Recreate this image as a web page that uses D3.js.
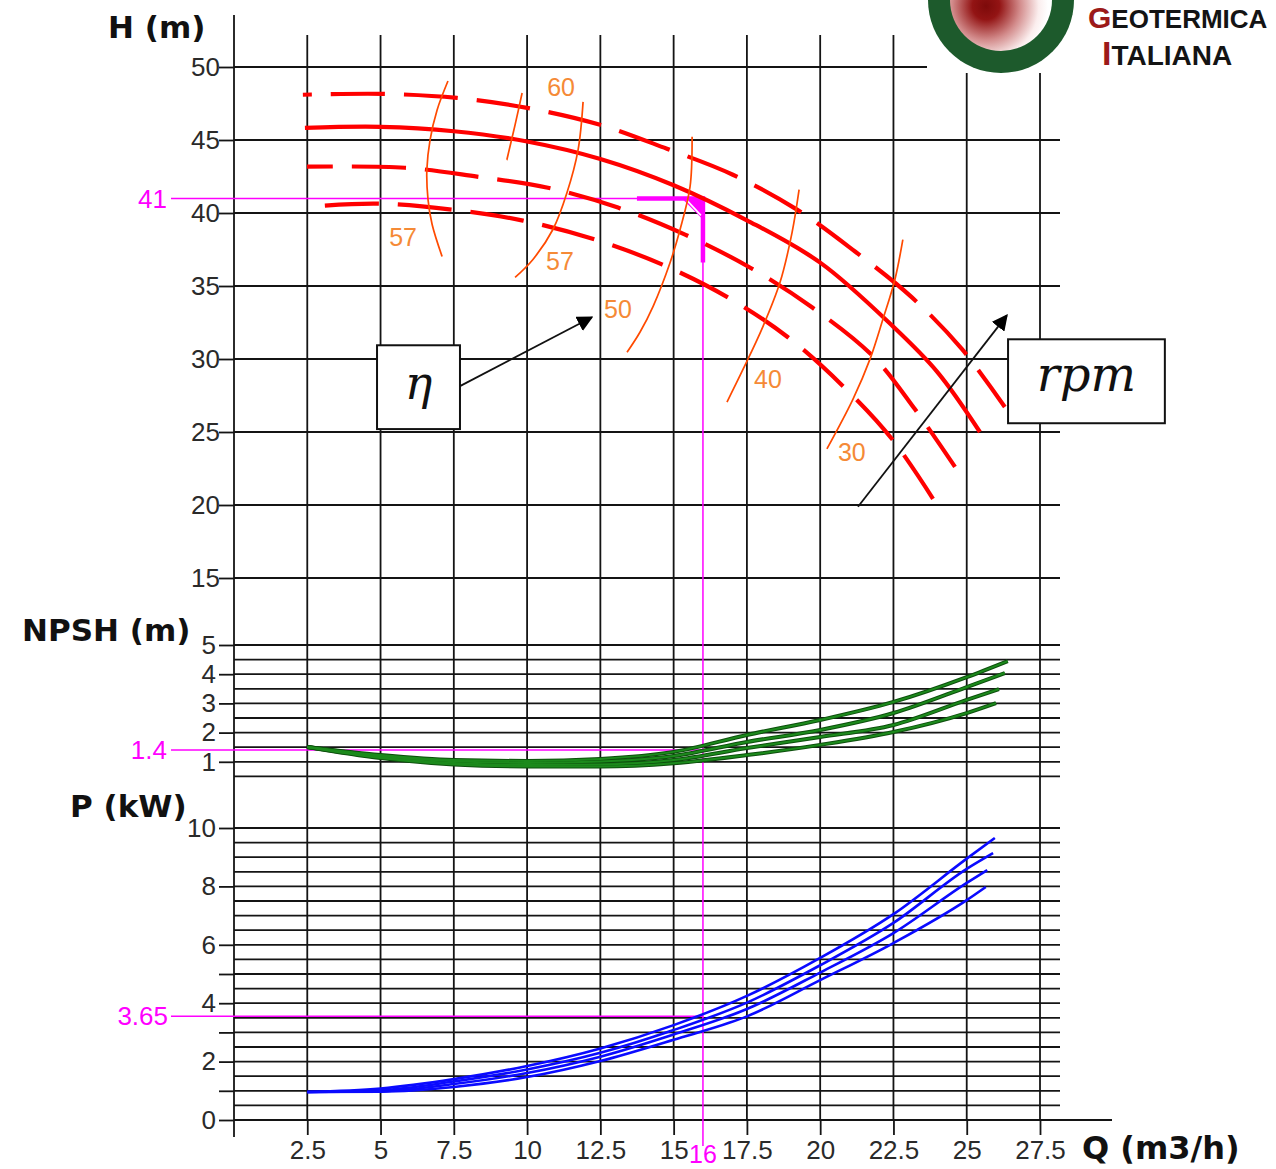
<!DOCTYPE html>
<html><head><meta charset="utf-8">
<script src="https://cdn.jsdelivr.net/npm/d3@7"></script>
<style>body{margin:0;background:#fff}svg{display:block}</style>
</head><body>
<svg id="c" width="1276" height="1169"></svg>
<script>
// ---------- DATA ----------
const qTicks = [2.5,5,7.5,10,12.5,15,17.5,20,22.5,25,27.5];
const hTicks = [15,20,25,30,35,40,45,50];
const npshTicks = [1,2,3,4,5];
const pTickMarks = [0,1,2,3,4,5,6,8,10];
const pTickLabels = [0,2,4,6,8,10];

// H-Q curves (Q m3/h, H m) for four speeds
const hCurveA = [[2.35,48.1],[5.08,48.16],[7.61,47.88],[10.0,47.2],[12.49,46.04],[14.77,44.4],[17.02,42.62],[19.21,40.23],[21.19,37.36],[23.13,34.22],[24.84,30.67],[26.3,26.71]];
const hCurveB = [[2.42,45.83],[5,45.9],[7.5,45.6],[10,44.9],[12.5,43.7],[15,41.9],[17.5,39.5],[20,36.6],[22.5,32.2],[24,29.1],[25.45,25.0]];
const hCurveC = [[2.49,43.17],[5.83,43.1],[8.29,42.49],[10.71,41.73],[13.1,40.37],[15.39,38.52],[17.6,36.27],[19.72,33.54],[21.8,30.19],[23.23,26.57],[24.6,22.61]];
const hCurveD = [[3.1,40.51],[4.98,40.64],[7.44,40.23],[9.86,39.48],[12.32,38.18],[14.6,36.48],[16.85,34.22],[18.9,31.49],[20.78,28.14],[22.45,24.52],[23.85,20.42]];

// iso-efficiency curves (%)
const eff57a = [[7.30,49.04],[6.93,47.06],[6.69,45.01],[6.58,42.96],[6.62,40.92],[6.76,39.21],[7.1,37.02]];
const eff60  = [[9.83,48.22],[9.59,46.04],[9.31,43.65]];
const eff57b = [[11.91,47.61],[11.74,44.33],[11.36,41.39],[10.88,38.87],[10.2,36.82],[9.59,35.59]];
const eff50  = [[15.63,45.22],[15.56,41.8],[15.22,38.87],[14.88,36.61],[14.3,33.61],[13.85,31.83],[13.41,30.46]];
const eff40  = [[19.28,41.6],[19.04,38.66],[18.63,35.25],[18.05,32.24],[17.37,29.3],[16.82,27.05]];
const eff30  = [[22.82,38.18],[22.55,35.45],[22.14,32.72],[21.7,29.99],[21.12,27.25],[20.23,23.84]];
const effLabels = [["60",11.16,48.63],["57",5.77,38.32],["57",11.12,36.68],["50",13.1,33.4],["40",18.22,28.62],["30",21.08,23.63]];

// NPSH curves
const npsh1 = [[2.5,1.51],[5,1.23],[7.5,1.06],[10,1.03],[12.5,1.10],[15,1.34],[17.5,1.92],[20,2.43],[22.5,3.05],[25,3.90],[26.4,4.45]];
const npsh2 = [[2.5,1.51],[5,1.20],[7.5,1.02],[10,0.96],[12.5,1.01],[15,1.20],[17.5,1.68],[20,2.09],[22.5,2.67],[25,3.56],[26.3,4.04]];
const npsh3 = [[2.5,1.51],[5,1.16],[7.5,0.96],[10,0.89],[12.5,0.91],[15,1.06],[17.5,1.47],[20,1.85],[22.5,2.26],[25,3.12],[26.1,3.49]];
const npsh4 = [[2.5,1.51],[5,1.13],[7.5,0.91],[10,0.84],[12.5,0.84],[15,0.95],[17.5,1.23],[20,1.58],[22.5,2.02],[25,2.67],[26.0,3.01]];

// Power curves
const pow1 = [[2.5,0.96],[5,1.08],[7.5,1.40],[10,1.85],[12.5,2.45],[15,3.25],[17.5,4.25],[20,5.55],[22.5,7.05],[25,8.95],[25.96,9.66]];
const pow2 = [[2.5,0.96],[5,1.02],[7.5,1.32],[10,1.73],[12.5,2.30],[15,3.08],[17.5,4.02],[20,5.30],[22.5,6.75],[25,8.60],[25.9,9.14]];
const pow3 = [[2.5,0.96],[5,0.98],[7.5,1.23],[10,1.61],[12.5,2.17],[15,2.93],[17.5,3.80],[20,5.05],[22.5,6.40],[25,8.12],[25.7,8.56]];
const pow4 = [[2.5,0.96],[5,0.97],[7.5,1.13],[10,1.47],[12.5,2.02],[15,2.75],[17.5,3.55],[20,4.79],[22.5,6.06],[25,7.53],[25.65,7.98]];

// duty point read-outs
const dutyQ = 16, dutyH = 41, dutyNPSH = 1.4, dutyPline = 3.55;
const dutyLabels = {q:"16", h:"41", npsh:"1.4", p:"3.65"};

// annotation anchors (Q, H)
const etaBox = [4.88,30.94,7.71,25.2];
const etaArrow = [[7.71,28.14],[12.21,32.86]];
const rpmBox = [26.41,31.35,31.76,25.6];
const rpmArrow = [[21.29,19.88],[26.37,32.99]];

// ---------- SCALES ----------
const svg = d3.select("#c");
const x  = d3.scaleLinear().domain([0,27.5]).range([234,1040]);
const yH = d3.scaleLinear().domain([15,50]).range([578,67]);
const yN = d3.scaleLinear().domain([0,5]).range([791,645]);
const yP = d3.scaleLinear().domain([0,10]).range([1120,828]);

const gridRight = 1060, axisX = 234, tickLen = 15, vTop = 35, vBottom = 1120;
const FONT = "Liberation Sans, Arial, sans-serif";
const gridCol = "#141414", gridW = 1.8;

const defs = svg.append("defs");
const mk = defs.append("marker").attr("id","arr").attr("viewBox","0 0 10 10")
  .attr("refX",9).attr("refY",5).attr("markerWidth",16).attr("markerHeight",16)
  .attr("markerUnits","userSpaceOnUse").attr("orient","auto");
mk.append("path").attr("d","M0,0 L10,5 L0,10 z").attr("fill","#000");

// ---------- GRID ----------
const grid = svg.append("g");
grid.selectAll(".vg").data(qTicks).join("line")
  .attr("x1",d=>x(d)).attr("x2",d=>x(d)).attr("y1",vTop).attr("y2",vBottom)
  .attr("stroke",gridCol).attr("stroke-width",gridW);
grid.selectAll(".hg").data(hTicks).join("line")
  .attr("x1",axisX).attr("x2",gridRight).attr("y1",d=>yH(d)).attr("y2",d=>yH(d))
  .attr("stroke",gridCol).attr("stroke-width",gridW);
grid.selectAll(".ng").data(d3.range(1,11).map(i=>i*0.5)).join("line")
  .attr("x1",axisX).attr("x2",gridRight).attr("y1",d=>yN(d)).attr("y2",d=>yN(d))
  .attr("stroke",gridCol).attr("stroke-width",gridW);
grid.selectAll(".pg").data(d3.range(0,21).map(i=>i*0.5)).join("line")
  .attr("x1",axisX).attr("x2",d=>d===0?1112:gridRight).attr("y1",d=>yP(d)).attr("y2",d=>yP(d))
  .attr("stroke",gridCol).attr("stroke-width",gridW);
grid.append("line").attr("x1",axisX).attr("x2",axisX).attr("y1",15).attr("y2",1137)
  .attr("stroke",gridCol).attr("stroke-width",gridW);

// ---------- AXES ----------
function styleAxis(g){
  g.select(".domain").remove();
  g.selectAll(".tick line").attr("stroke",gridCol).attr("stroke-width",gridW);
  g.selectAll(".tick text").attr("font-family",FONT).attr("font-size",26).attr("fill","#2a2a2a");
}
const axH = svg.append("g").attr("transform",`translate(${axisX},0)`)
  .call(d3.axisLeft(yH).tickValues(hTicks).tickSizeInner(tickLen).tickSizeOuter(0).tickPadding(-1).tickFormat(d3.format("d")));
styleAxis(axH);
const axN = svg.append("g").attr("transform",`translate(${axisX},0)`)
  .call(d3.axisLeft(yN).tickValues(npshTicks).tickSizeInner(tickLen).tickSizeOuter(0).tickPadding(3).tickFormat(d3.format("d")));
styleAxis(axN);
const axP = svg.append("g").attr("transform",`translate(${axisX},0)`)
  .call(d3.axisLeft(yP).tickValues(pTickMarks).tickSizeInner(tickLen).tickSizeOuter(0).tickPadding(3)
  .tickFormat(d=>pTickLabels.includes(d)?String(d):""));
styleAxis(axP);
const axQ = svg.append("g").attr("transform",`translate(0,${vBottom})`)
  .call(d3.axisBottom(x).tickValues(qTicks).tickSizeInner(tickLen).tickSizeOuter(0).tickPadding(6).tickFormat(d=>String(d)));
styleAxis(axQ);

// axis titles
const tt = svg.append("g").attr("font-family","DejaVu Sans, sans-serif").attr("font-weight","bold").attr("fill","#111");
tt.append("text").attr("x",108).attr("y",38).attr("font-size",31).text("H (m)");
tt.append("text").attr("x",22).attr("y",641).attr("font-size",31).text("NPSH (m)");
tt.append("text").attr("x",70).attr("y",817).attr("font-size",31).text("P (kW)");
tt.append("text").attr("x",1082).attr("y",1159).attr("font-size",32).text("Q (m3/h)");

// ---------- DUTY POINT (thin magenta) ----------
const MAG = "#ff00ff";
const mg = svg.append("g");
const xd = x(dutyQ);
mg.append("line").attr("x1",171).attr("x2",xd).attr("y1",yH(dutyH)).attr("y2",yH(dutyH)).attr("stroke",MAG).attr("stroke-width",1.5);
mg.append("line").attr("x1",171).attr("x2",xd).attr("y1",yN(dutyNPSH)).attr("y2",yN(dutyNPSH)).attr("stroke",MAG).attr("stroke-width",1.5);
mg.append("line").attr("x1",171).attr("x2",xd).attr("y1",yP(dutyPline)).attr("y2",yP(dutyPline)).attr("stroke",MAG).attr("stroke-width",1.5);
mg.append("line").attr("x1",xd).attr("x2",xd).attr("y1",yH(dutyH)).attr("y2",1146).attr("stroke",MAG).attr("stroke-width",1.5);
const ml = mg.append("g").attr("font-family",FONT).attr("font-size",26).attr("fill",MAG).attr("text-anchor","end");
ml.append("text").attr("x",167).attr("y",yH(dutyH)).attr("dy","0.35em").text(dutyLabels.h);
ml.append("text").attr("x",167).attr("y",yN(dutyNPSH)).attr("dy","0.35em").text(dutyLabels.npsh);
ml.append("text").attr("x",168).attr("y",yP(dutyPline)).attr("dy","0.35em").text(dutyLabels.p);
mg.append("text").attr("x",xd).attr("y",1163).attr("text-anchor","middle").attr("font-family",FONT)
  .attr("font-size",25).attr("fill",MAG).text(dutyLabels.q);

// ---------- H CURVES ----------
const lineH = d3.line().x(d=>x(d[0])).y(d=>yH(d[1])).curve(d3.curveCatmullRom.alpha(0.5));
const hSeries = [
  {d:hCurveA, dash:"54,19", off:45},
  {d:hCurveB, dash:null, off:0},
  {d:hCurveC, dash:"54,19", off:28},
  {d:hCurveD, dash:"54,19", off:0}
];
svg.append("g").selectAll("path").data(hSeries).join("path")
  .attr("d",s=>lineH(s.d)).attr("fill","none").attr("stroke","#ff0000")
  .attr("stroke-width",4.2).attr("stroke-linecap","butt")
  .attr("stroke-dasharray",s=>s.dash).attr("stroke-dashoffset",s=>s.off);

// ---------- EFFICIENCY ----------
const effSeries = [eff57a, eff60, eff57b, eff50, eff40, eff30];
svg.append("g").selectAll("path").data(effSeries).join("path")
  .attr("d",d=>lineH(d)).attr("fill","none").attr("stroke","#ff4a00").attr("stroke-width",1.7);
svg.append("g").selectAll("text").data(effLabels).join("text")
  .attr("x",d=>x(d[1])).attr("y",d=>yH(d[2])).attr("dy","0.35em").attr("text-anchor","middle")
  .attr("font-family",FONT).attr("font-size",25).attr("fill","#f58a36").text(d=>d[0]);

// ---------- NPSH ----------
const lineN = d3.line().x(d=>x(d[0])).y(d=>yN(d[1])).curve(d3.curveMonotoneX);
const nSeries = [npsh1,npsh2,npsh3,npsh4];
const ng = svg.append("g");
ng.selectAll(".o").data(nSeries).join("path").attr("d",lineN).attr("fill","none")
  .attr("stroke","#0d4f0d").attr("stroke-width",4);
ng.selectAll(".i").data(nSeries).join("path").attr("d",lineN).attr("fill","none")
  .attr("stroke","#1c8a1c").attr("stroke-width",2);

// ---------- POWER ----------
const lineP = d3.line().x(d=>x(d[0])).y(d=>yP(d[1])).curve(d3.curveMonotoneX);
svg.append("g").selectAll("path").data([pow1,pow2,pow3,pow4]).join("path")
  .attr("d",lineP).attr("fill","none").attr("stroke","#0a0aff").attr("stroke-width",2.6);

// ---------- DUTY POINT marker (thick) ----------
const yd = yH(dutyH);
mg.append("path").attr("d",`M${xd-66},${yd} L${xd},${yd} L${xd},${yd+64}`)
  .attr("fill","none").attr("stroke",MAG).attr("stroke-width",4.5);
mg.append("path").attr("d",`M${xd-22},${yd-1} L${xd+1},${yd-1} L${xd+1},${yd+22} Z`).attr("fill",MAG);
mg.append("line").attr("x1",xd-16).attr("y1",yd+2).attr("x2",xd-2).attr("y2",yd+17)
  .attr("stroke","#fff").attr("stroke-width",1.6);

// ---------- ANNOTATIONS ----------
const an = svg.append("g");
an.append("rect").attr("x",x(etaBox[0])).attr("y",yH(etaBox[1]))
  .attr("width",x(etaBox[2])-x(etaBox[0])).attr("height",yH(etaBox[3])-yH(etaBox[1]))
  .attr("fill","#fff").attr("stroke","#111").attr("stroke-width",2);
an.append("text").attr("x",(x(etaBox[0])+x(etaBox[2]))/2).attr("y",(yH(etaBox[1])+yH(etaBox[3]))/2)
  .attr("dy","0.25em").attr("text-anchor","middle").attr("font-family","DejaVu Serif, serif")
  .attr("font-style","italic").attr("font-size",46).attr("fill","#111").text("η");
an.append("line").attr("x1",x(etaArrow[0][0])).attr("y1",yH(etaArrow[0][1]))
  .attr("x2",x(etaArrow[1][0])).attr("y2",yH(etaArrow[1][1]))
  .attr("stroke","#111").attr("stroke-width",1.8).attr("marker-end","url(#arr)");
an.append("rect").attr("x",x(rpmBox[0])).attr("y",yH(rpmBox[1]))
  .attr("width",x(rpmBox[2])-x(rpmBox[0])).attr("height",yH(rpmBox[3])-yH(rpmBox[1]))
  .attr("fill","#fff").attr("stroke","#111").attr("stroke-width",2);
an.append("text").attr("x",(x(rpmBox[0])+x(rpmBox[2]))/2).attr("y",(yH(rpmBox[1])+yH(rpmBox[3]))/2)
  .attr("dy","0.2em").attr("text-anchor","middle").attr("font-family","DejaVu Serif, serif")
  .attr("font-style","italic").attr("font-size",48).attr("fill","#111").text("rpm");
an.append("line").attr("x1",x(rpmArrow[0][0])).attr("y1",yH(rpmArrow[0][1]))
  .attr("x2",x(rpmArrow[1][0])).attr("y2",yH(rpmArrow[1][1]))
  .attr("stroke","#111").attr("stroke-width",1.8).attr("marker-end","url(#arr)");

// ---------- LOGO ----------
const rg = defs.append("radialGradient").attr("id","lg").attr("gradientUnits","userSpaceOnUse")
  .attr("cx",986).attr("cy",6).attr("r",62);
rg.append("stop").attr("offset","0").attr("stop-color","#7d0a0a");
rg.append("stop").attr("offset","0.22").attr("stop-color","#931414");
rg.append("stop").attr("offset","0.55").attr("stop-color","#d38c8c");
rg.append("stop").attr("offset","0.85").attr("stop-color","#fbeeee");
rg.append("stop").attr("offset","1").attr("stop-color","#ffffff");
const lo = svg.append("g");
lo.append("rect").attr("x",927).attr("y",0).attr("width",349).attr("height",73).attr("fill","#fff");
lo.append("circle").attr("cx",1001).attr("cy",0).attr("r",73).attr("fill","#1d5a2c");
lo.append("circle").attr("cx",1001).attr("cy",0).attr("r",51).attr("fill","url(#lg)");
const t1 = lo.append("text").attr("x",1088).attr("y",28).attr("font-family",FONT).attr("font-weight","bold");
t1.append("tspan").attr("font-size",30).attr("fill","#9c1a1a").text("G");
t1.append("tspan").attr("font-size",26).attr("fill","#141414").text("EOTERMICA");
const t2 = lo.append("text").attr("x",1102).attr("y",65).attr("font-family",FONT).attr("font-weight","bold");
t2.append("tspan").attr("font-size",34).attr("fill","#9c1a1a").text("I");
t2.append("tspan").attr("font-size",28).attr("fill","#141414").text("TALIANA");
</script>
</body></html>
